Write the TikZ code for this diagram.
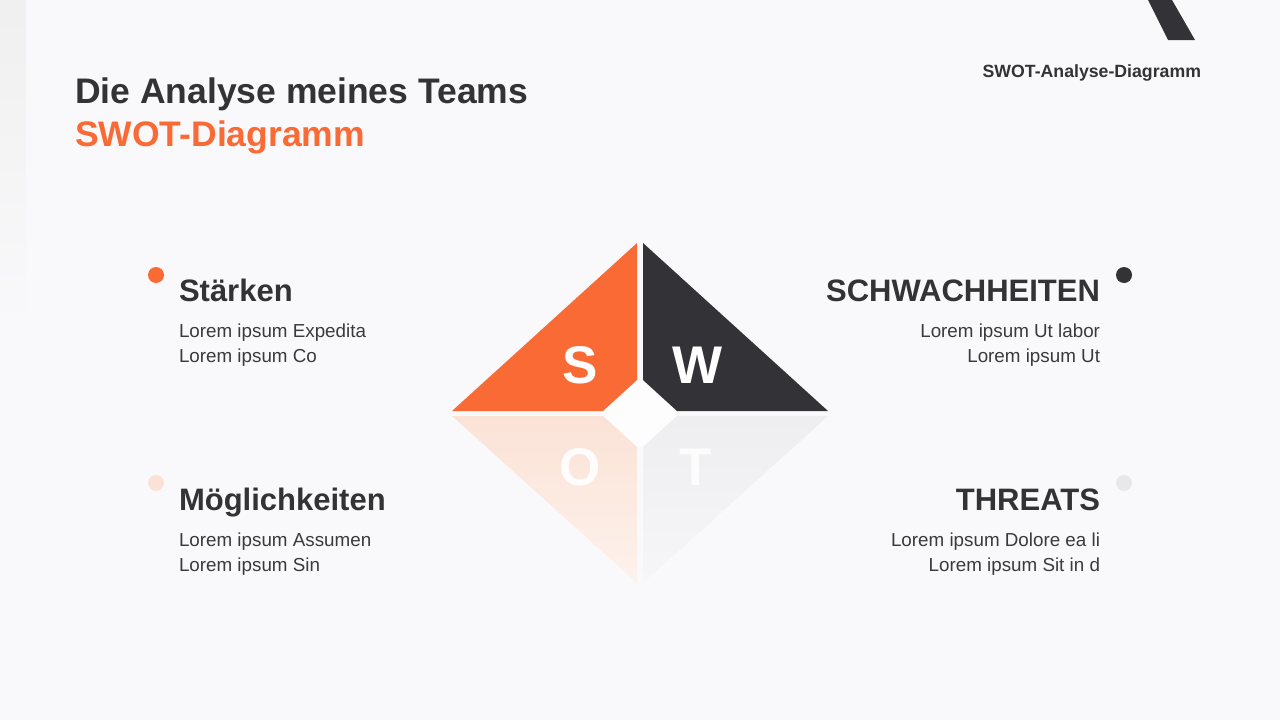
\documentclass[tikz,border=0pt]{standalone}
\usepackage{fontspec}
\setmainfont{Liberation Sans}
\definecolor{bg}{HTML}{F9F9FB}
\definecolor{dark}{HTML}{333236}
\definecolor{orng}{HTML}{F96A35}
\definecolor{peach}{HTML}{FBE2D6}
\definecolor{peachlt}{HTML}{FDF2EC}
\definecolor{lgray}{HTML}{EEEEF0}
\definecolor{lgraylt}{HTML}{F6F6F8}
\definecolor{body}{HTML}{3A3A3E}
\begin{document}
\begin{tikzpicture}[x=1pt,y=-1pt,
  txt/.style={inner sep=0pt,outer sep=0pt},
  head/.style={txt,font=\fontsize{31}{34}\selectfont\bfseries,text=dark},
  bodytxt/.style={txt,font=\fontsize{18.8}{25}\selectfont,text=body,align=left},
  bodytxtr/.style={txt,font=\fontsize{18.8}{25}\selectfont,text=body,align=right},
  letter/.style={txt,font=\fontsize{53}{53}\selectfont\bfseries,text=white},
  dot/.style={circle,inner sep=0pt,minimum size=16pt}]
\useasboundingbox (0,0) rectangle (1280,720);
\fill[bg] (0,0) rectangle (1280,720);
\shade[top color=black!6,bottom color=bg] (0,0) rectangle (26,330);
% top-right slash
\fill[dark] (1148,0) -- (1172,0) -- (1195,40) -- (1168,40) -- cycle;
\node[txt,anchor=base east,font=\fontsize{17.7}{20}\selectfont\bfseries,text=dark] (sub) at (1201,77) {SWOT-Analyse-Diagramm};
% title
\node[txt,anchor=base west,font=\fontsize{35.5}{40}\selectfont\bfseries,text=dark] (t1) at (75,103) {Die Analyse meines Teams};
\node[txt,anchor=base west,font=\fontsize{35.5}{40}\selectfont\bfseries,text=orng] (t2) at (75,146) {SWOT-Diagramm};
% diamond
\fill[white!60!bg] (603,411) -- (637,380) -- (643,380) -- (677,411) -- (677,416) -- (643,447) -- (637,447) -- (603,416) -- cycle;
\fill[orng] (452,411) -- (637,243) -- (637,380) -- (603,411) -- cycle;
\fill[dark] (643,243) -- (828,411) -- (677,411) -- (643,380) -- cycle;
\shade[top color=peach,bottom color=peachlt] (452,416) -- (603,416) -- (637,447) -- (637,583) -- cycle;
\shade[top color=lgray,bottom color=lgraylt] (677,416) -- (828,416) -- (643,583) -- (643,447) -- cycle;
\node[letter] (S) at (580,365) {S};
\node[letter] (W) at (698,365) {W};
\node[letter,text=white!92!peach] (O) at (580,467) {O};
\node[letter,text=white!80!lgray] (T) at (696,467) {T};
% Staerken
\node[dot,fill=orng] (d1) at (156,275) {};
\node[head,anchor=base west] (h1) at (179,301) {Stärken};
\node[bodytxt,anchor=north west] (b1) at (179,323.5) {Lorem ipsum Expedita\\Lorem ipsum Co};
% Schwachheiten
\node[dot,fill=dark] (d2) at (1124,275) {};
\node[head,anchor=base east] (h2) at (1100,301) {SCHWACHHEITEN};
\node[bodytxtr,anchor=north east] (b2) at (1100,323.5) {Lorem ipsum Ut labor\\Lorem ipsum Ut};
% Moeglichkeiten
\node[dot,fill=peach] (d3) at (156,483) {};
\node[head,anchor=base west] (h3) at (179,510) {Möglichkeiten};
\node[bodytxt,anchor=north west] (b3) at (179,532.5) {Lorem ipsum Assumen\\Lorem ipsum Sin};
% Threats
\node[dot,fill=black!9] (d4) at (1124,483) {};
\node[head,anchor=base east] (h4) at (1100,510) {THREATS};
\node[bodytxtr,anchor=north east] (b4) at (1100,532.5) {Lorem ipsum Dolore ea li\\Lorem ipsum Sit in d};
\end{tikzpicture}
\end{document}
